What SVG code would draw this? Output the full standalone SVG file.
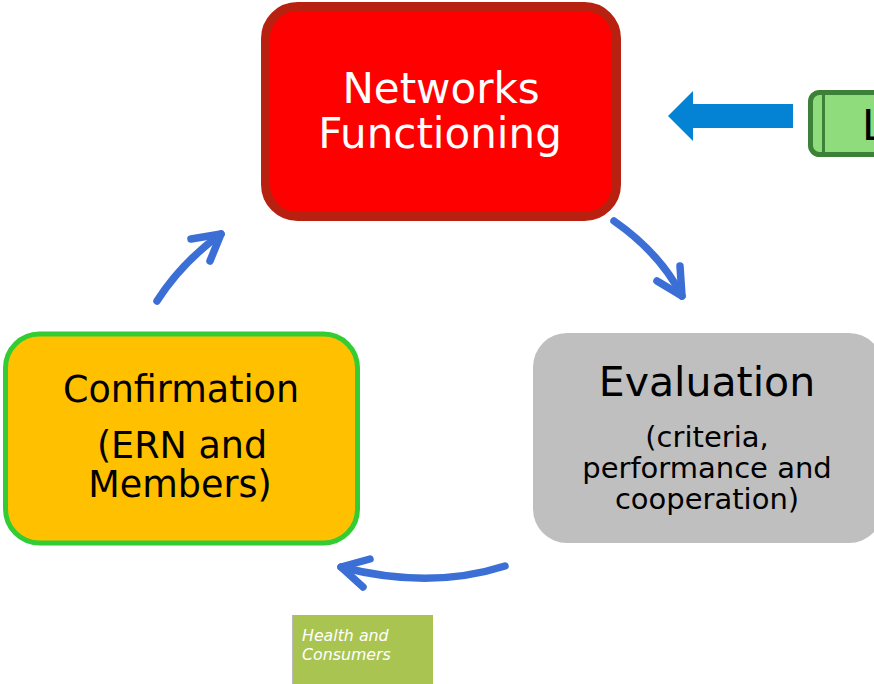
<svg xmlns="http://www.w3.org/2000/svg" width="874" height="684" viewBox="0 0 874 684">
<style>
.t{font-family:"DejaVu Sans",Verdana,sans-serif;text-anchor:middle}
.c{fill:none;stroke:#3C6FD6;stroke-width:7.5;stroke-linecap:round;stroke-linejoin:round}
.h{font-family:"DejaVu Sans",Verdana,sans-serif;font-style:italic;font-size:15.8px;fill:#fff}
</style>
<rect width="874" height="684" fill="#fff"/>
<g id="networks">
<rect x="265.5" y="6.5" width="351" height="210" rx="32" fill="#FF0000" stroke="#B82010" stroke-width="9"/>
<text class="t" x="441" y="103" font-size="42" fill="#fff">Networks</text>
<text class="t" x="440" y="148" font-size="42" fill="#fff">Functioning</text>
</g>
<g id="evaluation">
<rect x="533" y="333" width="350" height="210" rx="34" fill="#BFBFBF"/>
<text class="t" x="707" y="396" font-size="41" fill="#000">Evaluation</text>
<text class="t" x="707" y="447" font-size="29" fill="#000">(criteria,</text>
<text class="t" x="707" y="478" font-size="29" fill="#000">performance and</text>
<text class="t" x="707" y="509" font-size="29" fill="#000">cooperation)</text>
</g>
<g id="confirmation">
<rect x="5.5" y="334" width="352" height="209" rx="34" fill="#FFC000" stroke="#33CC33" stroke-width="5"/>
<text class="t" x="181" y="402" font-size="36.5" fill="#000">Confirmation</text>
<text class="t" x="182" y="458" font-size="36.5" fill="#000">(ERN and</text>
<text class="t" x="180" y="497" font-size="36.5" fill="#000">Members)</text>
</g>
<g id="legend">
<rect x="810.5" y="92.5" width="90" height="62" rx="9" fill="#8EDC7B" stroke="#3C8137" stroke-width="5"/>
<line x1="823.5" y1="93" x2="823.5" y2="154" stroke="#3C8137" stroke-width="3"/>
<text x="862" y="140" font-family="DejaVu Sans,Verdana,sans-serif" font-size="42" fill="#000">L</text>
</g>
<g id="health">
<rect x="293" y="615" width="140" height="69" fill="#AAC452"/>
<line x1="292.5" y1="615" x2="292.5" y2="684" stroke="#B8B8B8" stroke-width="1"/>
<text class="h" x="302" y="641">Health and</text>
<text class="h" x="302" y="660">Consumers</text>
</g>
<g id="connectors">
<polygon points="668,116 693,91 693,104 793,104 793,128 693,128 693,141" fill="#0483D4"/>
<path class="c" d="M157,301 Q182,262 221,234"/>
<path class="c" d="M191,239 L221,234 L210,261"/>
<path class="c" d="M614,221 Q660,253 682,296"/>
<path class="c" d="M657,281 L682,296 L680,266"/>
<path class="c" d="M505,566 Q430,590 341,567"/>
<path class="c" d="M370,559 L341,567 L363,587"/>
</g>
</svg>
